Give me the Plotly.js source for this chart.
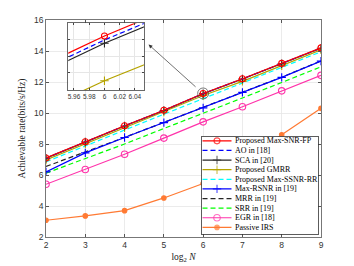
<!DOCTYPE html>
<html><head><meta charset="utf-8">
<script src="https://cdn.plot.ly/plotly-3.0.1.min.js"></script>
<style>html,body{margin:0;padding:0;background:#fff}#c{width:354px;height:266px}</style>
</head><body><div id="c"></div>
<script>
const xN = [2,3,4,5,6,7,8,9];
const maxSnrFp = [7.10,8.15,9.18,10.18,11.26,12.21,13.20,14.20];
const ao18 = [7.09,8.14,9.17,10.17,11.248,12.20,13.19,14.19];
const sca20 = [7.08,8.13,9.16,10.16,11.238,12.19,13.18,14.18];
const gmrr = [6.97,8.00,9.05,10.06,11.126,12.04,13.05,14.08];
const maxSsnrRr = [6.85,7.85,8.90,9.92,10.94,11.95,12.95,13.95];
const maxRsnr19 = [6.20,7.43,8.42,9.38,10.33,11.33,12.30,13.35];
const mrr19 = [6.55,7.47,8.43,9.39,10.34,11.34,12.31,13.36];
const srr19 = [6.12,7.05,8.00,9.00,9.97,10.97,11.97,12.98];
const egr18 = [5.40,6.35,7.34,8.38,9.43,10.40,11.43,12.43];
const passive = [3.08,3.36,3.70,4.52,5.45,6.90,8.60,10.30];
const names = ['Proposed Max-SNR-FP','AO in [18]','SCA in [20]','Proposed GMRR','Proposed Max-SSNR-RR','Max-RSNR in [19]','MRR in [19]','SRR in [19]','EGR in [18]','Passive IRS'];
const insetTicks = [5.96,5.98,6,6.02,6.04];

const series = [maxSnrFp,ao18,sca20,gmrr,maxSsnrRr,maxRsnr19,mrr19,srr19,egr18,passive];
const styles = [
  {color:'#FF0000',dash:'solid',sym:'circle-open',size:6},
  {color:'#0000FF',dash:'dash',sym:null},
  {color:'#262626',dash:'solid',sym:'cross-thin-open',size:6},
  {color:'#B5A300',dash:'solid',sym:'cross-thin-open',size:6},
  {color:'#00FFFF',dash:'dash',sym:null},
  {color:'#0000FF',dash:'solid',sym:'cross-thin-open',size:6},
  {color:'#262626',dash:'dash',sym:null},
  {color:'#00FF00',dash:'dash',sym:null},
  {color:'#FF33AA',dash:'solid',sym:'circle-open',size:6.5},
  {color:'#FF7A33',dash:'solid',sym:'circle',size:4.5}
];
const traces = [];
['x','x2'].forEach((xa,k)=>{
  series.forEach((ys,i)=>{
    const s = styles[i];
    const t = {x:xN,y:ys,type:'scatter',mode:s.sym?'lines+markers':'lines',
      xaxis:xa,yaxis:k?'y2':'y',showlegend:false,hoverinfo:'skip',
      line:{color:s.color,width:1.2,dash:s.dash==='dash'?'5px,3px':'solid'}};
    if(s.sym) t.marker={symbol:s.sym,size:s.size,color:s.color,line:{color:s.color,width:1.1}};
    traces.push(t);
  });
});
traces.reverse();
const rowH = 9.62, row0 = 4.3;
const annotations = [];
names.forEach((nm,i)=>{
  const s = styles[i];
  const yy = row0 + i*rowH;
  const t = {x:[1,15.5,30],y:[yy,yy,yy],type:'scatter',mode:s.sym?'lines+markers':'lines',
    xaxis:'x3',yaxis:'y3',showlegend:false,hoverinfo:'skip',
    line:{color:s.color,width:1.2,dash:s.dash==='dash'?'5px,3px':'solid'}};
  if(s.sym) t.marker={symbol:s.sym,size:[0,s.size,0],color:s.color,line:{color:s.color,width:1.1}};
  traces.push(t);
  annotations.push({x:31,y:yy,xref:'x3',yref:'y3',text:nm,showarrow:false,xanchor:'left',yanchor:'middle',
    font:{family:'Liberation Serif',size:8,color:'#000'}});
});
annotations.push({x:0.373,y:0.887,xref:'paper',yref:'paper',ax:50,ay:45,showarrow:true,
  arrowhead:2,arrowsize:1.1,arrowwidth:0.7,arrowcolor:'#333',text:' '});

const axFont = {family:'Liberation Sans',size:8.5,color:'#333'};
const layout = {
  width:354,height:266,margin:{l:46,r:33,t:20,b:29},
  paper_bgcolor:'#fff',plot_bgcolor:'#fff',
  xaxis:{range:[2,9],dtick:1,tick0:2,showgrid:true,gridcolor:'#e6e6e6',gridwidth:0.8,zeroline:false,
    showline:true,mirror:'ticks',linecolor:'#555',linewidth:0.8,ticks:'inside',ticklen:3,tickcolor:'#555',
    tickfont:axFont,title:{text:'log<sub>2</sub> <i>N</i>',font:{family:'Liberation Serif',size:9.5,color:'#222'},standoff:4}},
  yaxis:{range:[2,16],dtick:2,tick0:2,showgrid:true,gridcolor:'#e6e6e6',gridwidth:0.8,zeroline:false,
    showline:true,mirror:'ticks',linecolor:'#555',linewidth:0.8,ticks:'inside',ticklen:3,tickcolor:'#555',
    tickfont:axFont,title:{text:'Achievable rate(bits/s/Hz)',font:{family:'Liberation Serif',size:9.5,color:'#222'},standoff:6}},
  xaxis2:{domain:[0.081,0.356],anchor:'y2',range:[5.9525,6.0518],tickvals:insetTicks,tickangle:0,
    ticktext:insetTicks.map(v=>String(v)),showgrid:true,gridcolor:'#e6e6e6',zeroline:false,
    showline:true,mirror:'ticks',linecolor:'#444',linewidth:0.8,ticks:'inside',ticklen:2,tickcolor:'#444',
    tickfont:{family:'Liberation Sans',size:6.5,color:'#333'}},
  yaxis2:{domain:[0.677,0.985],anchor:'x2',range:[11.098,11.298],dtick:0.05,showticklabels:false,
    showgrid:true,gridcolor:'#e6e6e6',zeroline:false,showline:true,mirror:'ticks',linecolor:'#444',linewidth:0.8,
    ticks:'inside',ticklen:2,tickcolor:'#444'},
  xaxis3:{domain:[0.5655,0.989],anchor:'y3',range:[0,116.5],showgrid:false,zeroline:false,showticklabels:false,
    ticks:'',showline:true,mirror:true,linecolor:'#333',linewidth:0.8,fixedrange:true},
  yaxis3:{domain:[0.0138,0.463],anchor:'x3',range:[97.5,0],showgrid:false,zeroline:false,showticklabels:false,
    ticks:'',showline:true,mirror:true,linecolor:'#333',linewidth:0.8,fixedrange:true},
  shapes:[{type:'circle',xref:'x',yref:'y',xsizemode:'pixel',ysizemode:'pixel',
    xanchor:xN[4],yanchor:maxSnrFp[4],x0:-5.5,x1:5.5,y0:-5.5,y1:5.5,line:{color:'#444',width:0.7}}],
  annotations:annotations
};
Plotly.newPlot('c',traces,layout,{staticPlot:true,displayModeBar:false});
</script></body></html>
